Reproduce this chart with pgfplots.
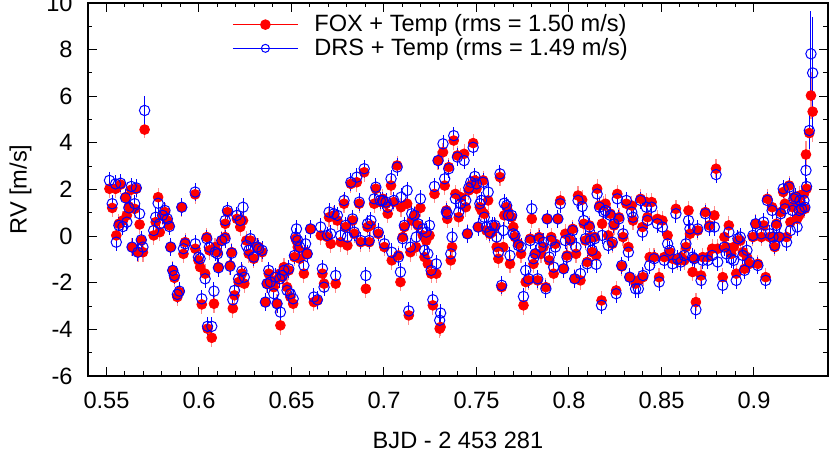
\documentclass[border=0pt]{standalone}
\usepackage{fontspec}
\setmainfont{Liberation Sans}
\usepackage{pgfplots}
\usepackage{pgfplotstable}
\pgfplotsset{compat=1.18}
\newcommand\ff{\fontsize{11.8}{14}\selectfont}

\pgfplotstableread{
x r b
0.5516 2.03 2.39
0.5531 1.21 1.39
0.5549 2.03 2.24
0.5553 0.03 -0.26
0.5567 0.53 0.46
0.5576 2.21 2.27
0.5589 0.67 0.41
0.5603 1.67 1.64
0.5610 0.89 0.60
0.5621 1.27 1.21
0.5634 1.99 2.13
0.5638 -0.47 -0.47
0.5652 1.17 1.39
0.5661 2.03 2.07
0.5670 -0.69 -0.69
0.5679 0.50 0.96
0.5688 -0.19 -0.16
0.5697 -0.69 -0.47
0.5755 0.03 0.24
0.5766 0.60 0.81
0.5779 1.67 1.41
0.5788 0.17 0.53
0.5803 0.89 0.89
0.5816 1.03 1.10
0.5829 0.67 0.74
0.5840 0.46 0.41
0.5847 -0.47 -0.47
0.5858 -1.47 -1.47
0.5867 -1.79 -1.69
0.5883 -2.61 -2.50
0.5894 -2.40 -2.36
0.5907 1.24 1.24
0.5916 -0.76 -0.54
0.5925 -0.26 -0.33
0.5979 1.79 1.89
0.5980 -0.54 -0.33
0.5997 -1.04 -0.90
0.6006 -1.33 -0.97
0.6015 -2.93 -2.69
0.6033 -1.61 -1.83
0.6042 -0.04 -0.11
0.6046 -3.97 -3.87
0.6056 -0.61 -0.47
0.6069 -4.36 -3.87
0.6081 -2.90 -2.36
0.6087 -0.47 -0.69
0.6100 -0.69 -0.76
0.6105 -1.33 -1.36
0.6123 -0.19 -0.19
0.6141 -0.04 -0.11
0.6142 0.53 0.67
0.6154 1.03 1.10
0.6168 -1.26 -1.29
0.6177 -0.69 -0.73
0.6183 -3.10 -2.73
0.6192 -2.54 -2.33
0.6205 0.74 0.89
0.6214 -1.97 -1.83
0.6223 0.39 0.67
0.6232 -1.61 -1.50
0.6238 0.67 1.24
0.6245 -2.04 -1.76
0.6256 -0.19 -0.40
0.6269 -0.76 -0.61
0.6278 -0.19 -0.11
0.6296 -0.97 -0.90
0.6314 -0.47 -0.47
0.6323 -0.47 -0.54
0.6341 -0.69 -0.61
0.6359 -2.83 -2.83
0.6368 -2.04 -2.04
0.6377 -1.61 -1.47
0.6386 -1.97 -1.97
0.6404 -2.19 -2.47
0.6413 -1.90 -1.76
0.6422 -2.90 -2.90
0.6437 -1.61 -1.83
0.6440 -3.83 -3.26
0.6450 -1.76 -1.69
0.6459 -1.33 -1.47
0.6476 -2.19 -2.33
0.6485 -1.47 -1.40
0.6494 -2.61 -2.47
0.6509 -2.90 -2.69
0.6516 -0.90 -0.83
0.6523 -0.11 -0.04
0.6527 -0.19 0.31
0.6534 -0.47 -0.19
0.6545 -0.97 -0.47
0.6567 -1.61 -1.26
0.6576 -0.69 -0.33
0.6585 -0.76 -0.76
0.6603 0.31 0.31
0.6621 -2.83 -2.61
0.6640 -2.76 -2.73
0.6658 0.03 0.39
0.6667 -1.61 -1.40
0.6676 -2.04 -2.19
0.6694 -0.04 0.03
0.6703 0.81 1.03
0.6712 -0.33 0.10
0.6730 0.89 0.96
0.6739 -2.04 -1.69
0.6748 0.67 0.89
0.6766 -0.26 0.03
0.6784 1.39 1.53
0.6793 0.39 0.46
0.6802 -0.40 -0.04
0.6821 2.24 2.31
0.6830 0.67 0.74
0.6839 0.10 0.17
0.6853 2.31 2.53
0.6866 1.39 1.46
0.6875 -0.26 -0.19
0.6893 2.74 2.89
0.6902 -2.26 -1.69
0.6911 0.39 0.53
0.6920 -0.26 -0.19
0.6929 0.46 0.67
0.6947 1.39 1.60
0.6956 2.03 2.10
0.6969 0.10 0.17
0.6980 1.46 1.53
0.6993 1.60 1.53
0.7002 -0.47 -0.33
0.7011 1.39 1.46
0.7020 0.96 1.24
0.7038 2.17 2.46
0.7042 -1.04 -0.69
0.7053 1.46 1.53
0.7071 3.03 2.96
0.7078 -0.83 -0.90
0.7089 -1.97 -1.54
0.7092 1.24 1.67
0.7101 -0.04 -0.11
0.7110 0.39 0.46
0.7125 1.39 1.96
0.7134 -3.40 -3.21
0.7143 -0.69 -0.47
0.7150 0.67 0.96
0.7165 0.89 0.89
0.7174 -0.47 -0.04
0.7183 0.46 0.53
0.7197 1.21 1.60
0.7210 0.03 0.31
0.7219 -0.90 -0.61
0.7228 -0.19 0.17
0.7237 -1.19 -0.76
0.7246 0.03 0.46
0.7255 -1.61 -1.47
0.7264 -2.97 -2.73
0.7273 1.81 2.13
0.7283 -1.61 -1.19
0.7292 3.24 3.24
0.7301 -3.97 -3.61
0.7306 -3.90 -3.30
0.7319 3.60 3.96
0.7328 2.17 2.46
0.7337 1.10 1.03
0.7342 0.74 0.96
0.7350 2.96 2.89
0.7361 -1.04 -0.76
0.7368 -0.47 -0.04
0.7377 4.10 4.31
0.7386 1.81 1.60
0.7397 3.46 3.39
0.7404 0.81 1.03
0.7415 1.67 1.39
0.7433 3.53 3.24
0.7442 1.24 1.53
0.7451 0.10 0.10
0.7458 1.96 2.07
0.7469 2.17 2.31
0.7482 3.99 3.81
0.7491 2.39 2.56
0.7500 2.03 2.24
0.7509 0.39 0.39
0.7518 1.24 1.39
0.7527 1.10 1.53
0.7536 2.39 2.31
0.7542 0.96 0.81
0.7554 0.24 0.39
0.7563 1.53 1.89
0.7572 0.10 0.17
0.7585 0.17 0.46
0.7600 0.39 0.46
0.7609 -0.47 -0.04
0.7618 -0.97 -0.69
0.7627 2.53 2.67
0.7636 -2.19 -2.11
0.7645 -0.47 0.24
0.7650 0.89 1.41
0.7663 1.24 1.31
0.7672 1.03 0.89
0.7681 -1.19 -0.83
0.7690 0.81 0.89
0.7699 0.39 0.10
0.7708 -0.04 0.03
0.7726 -0.33 -0.40
0.7741 -0.76 -0.47
0.7754 -2.97 -2.59
0.7766 -1.97 -1.47
0.7781 -1.90 -1.83
0.7790 -0.11 -0.19
0.7799 0.74 1.17
0.7808 -1.19 -0.97
0.7817 -0.76 -0.76
0.7831 -1.90 -1.83
0.7838 -0.04 -0.11
0.7849 -0.76 -0.47
0.7862 -0.47 -0.26
0.7875 -2.19 -2.26
0.7882 0.74 0.74
0.7893 -1.04 -0.90
0.7904 -0.04 -0.19
0.7917 -1.61 -1.33
0.7926 -0.33 -0.47
0.7940 0.74 0.74
0.7953 1.53 1.39
0.7971 -1.40 -1.40
0.7980 0.10 -0.19
0.7989 -0.83 -0.90
0.8007 -0.19 -0.11
0.8020 0.31 0.24
0.8031 -1.83 -1.83
0.8038 -0.76 -0.47
0.8049 1.74 1.53
0.8062 -1.90 -1.61
0.8071 1.56 1.27
0.8080 0.53 0.67
0.8089 -0.19 -0.11
0.8098 -1.11 -1.19
0.8110 0.46 0.39
0.8116 -0.04 -0.19
0.8125 -0.69 -0.61
0.8139 -0.04 -0.11
0.8147 -0.83 -1.21
0.8152 2.03 1.81
0.8165 1.31 1.24
0.8176 -2.76 -2.97
0.8179 0.53 0.03
0.8188 1.31 1.03
0.8197 1.39 1.10
0.8212 0.03 -0.40
0.8224 0.96 0.89
0.8234 -0.33 -0.26
0.8243 0.46 0.53
0.8255 -2.33 -2.47
0.8261 1.81 1.60
0.8270 0.81 0.74
0.8285 -1.30 -1.26
0.8292 -0.04 0.10
0.8310 1.39 1.53
0.8321 -0.47 -0.69
0.8328 -1.76 -1.76
0.8339 1.31 1.03
0.8346 0.67 0.81
0.8360 -2.04 -2.26
0.8375 -1.90 -2.26
0.8387 1.60 1.53
0.8397 0.39 0.17
0.8400 -1.76 -1.69
0.8418 1.46 1.24
0.8424 0.81 0.67
0.8436 -0.90 -1.26
0.8447 1.46 1.24
0.8460 -0.90 -0.97
0.8478 0.74 0.53
0.8487 -1.76 -1.97
0.8505 0.67 0.39
0.8515 -0.90 -1.04
0.8533 0.03 -0.33
0.8545 -0.69 -0.61
0.8560 -0.97 -1.19
0.8578 1.17 0.96
0.8587 -1.04 -0.97
0.8605 -0.90 -1.11
0.8623 -1.04 -0.83
0.8632 -0.47 -0.33
0.8646 1.10 0.67
0.8654 0.10 0.31
0.8668 -1.54 -0.90
0.8677 -0.97 -0.97
0.8686 -2.83 -3.16
0.8696 0.24 0.31
0.8714 -1.69 -1.90
0.8723 -0.90 -1.04
0.8737 1.03 0.96
0.8750 -0.90 -1.04
0.8759 0.46 0.39
0.8774 -0.54 -0.83
0.8786 0.89 0.39
0.8795 2.89 2.64
0.8804 -0.54 -1.11
0.8831 -1.76 -2.11
0.8840 -0.04 -0.47
0.8850 -0.47 -0.76
0.8864 0.46 0.17
0.8877 -0.76 -0.97
0.8890 -0.47 -1.04
0.8904 -1.61 -1.90
0.8913 -0.19 -0.11
0.8926 -0.19 -0.04
0.8940 -0.69 -0.83
0.8949 -1.40 -1.47
0.8962 -0.90 -0.61
0.8976 -1.19 -1.11
0.8994 -0.04 0.03
0.9009 0.53 0.53
0.9021 -1.19 -1.26
0.9040 -0.04 0.10
0.9052 0.46 0.60
0.9063 -1.76 -1.90
0.9072 1.60 1.53
0.9085 -0.04 0.10
0.9098 1.24 1.10
0.9103 -0.04 -0.04
0.9112 -0.47 -0.40
0.9121 0.53 0.46
0.9136 -0.04 -0.04
0.9145 1.03 0.96
0.9158 1.89 2.03
0.9167 1.39 1.17
0.9176 -0.04 -0.26
0.9190 2.17 2.10
0.9197 0.60 0.24
0.9208 1.24 1.10
0.9216 1.67 1.60
0.9226 1.53 1.67
0.9233 0.74 0.39
0.9244 0.89 1.10
0.9248 1.74 1.53
0.9257 1.31 1.17
0.9270 1.81 1.53
0.9275 1.17 1.24
0.9284 2.03 2.13
}\rvtab

\pgfplotstableread{
x r re b be
0.5706 4.57 0.35 5.39 0.62
0.9281 3.50 0.60 2.82 0.60
0.9299 4.42 0.80 4.53 0.80
0.9308 6.03 1.00 7.82 1.85
0.9317 5.34 1.30 7.00 2.40
}\bigtab

\begin{document}
\begin{tikzpicture}
\begin{axis}[
  at={(0,0)}, anchor=south west,
  scale only axis, width=370pt, height=186.5pt,
  xmin=0.54, xmax=0.94, ymin=-6, ymax=10,
  xtick={0.55,0.6,0.65,0.7,0.75,0.8,0.85,0.9},
  ytick={-6,-4,-2,0,2,4,6,8,10},
  minor x tick num=4, minor y tick num=1,
  tick align=inside, tick pos=both,
  major tick length=4.5pt, minor tick length=2.25pt,
  every tick/.style={black, line width=0.5pt},
  axis line style={line width=0.6pt},
  /pgf/number format/assume math mode=true,
  tick label style={font=\ff},
  label style={font=\ff},
  xticklabel style={inner sep=0pt, anchor=north, yshift=-8pt},
  yticklabel style={inner sep=0pt, anchor=east, xshift=-7.5pt},
  xlabel={BJD - 2 453 281}, ylabel={RV [m/s]},
  xlabel style={at={(axis description cs:0.5,0)}, anchor=north, inner sep=0pt, yshift=-28pt},
  ylabel style={at={(axis description cs:-0.0757,0.5)}, anchor=south, inner sep=0pt},
  legend style={draw=none, fill=none, font=\ff, at={(axis description cs:0.1946,0.970)}, anchor=north west, inner sep=0pt, row sep=1.8pt, column sep=8pt, nodes={inner sep=0pt}},
  legend cell align=left,
  legend image code/.code={\draw[mark repeat=2, mark phase=2, #1] plot coordinates {(0pt,0pt) (16.25pt,0pt) (32.5pt,0pt)};},
]
\addlegendimage{red, line width=0.5pt, mark=*, mark size=2.4pt, mark options={fill=red, draw=red}}
\addlegendentry{FOX + Temp (rms = 1.50 m/s)}
\addlegendimage{blue, line width=0.5pt, mark=o, mark size=2pt}
\addlegendentry{DRS + Temp (rms = 1.49 m/s)}

\addplot[forget plot, only marks, mark=*, mark size=2.45pt, color=red, mark options={fill=red, draw=red},
  error bars/.cd, y dir=both, y fixed=0.40, error mark=none, error bar style={line width=0.6pt, red!45}]
  table[x=x, y=r] {\rvtab};
\addplot[forget plot, only marks, mark=*, mark size=2.45pt, color=red, mark options={fill=red, draw=red},
  error bars/.cd, y dir=both, y explicit, error mark=none, error bar style={line width=0.6pt, red!45}]
  table[x=x, y=r, y error=re] {\bigtab};
\addplot[forget plot, only marks, mark=o, mark size=2.6pt, color=blue, mark options={line width=0.5pt},
  error bars/.cd, y dir=both, y fixed=0.38, error mark=none, error bar style={line width=0.5pt, blue}]
  table[x=x, y=b] {\rvtab};
\addplot[forget plot, only marks, mark=o, mark size=2.6pt, color=blue, mark options={line width=0.5pt},
  error bars/.cd, y dir=both, y explicit, error mark=none, error bar style={line width=0.5pt, blue}]
  table[x=x, y=b, y error=be] {\bigtab};
\end{axis}
\pgfresetboundingbox
\useasboundingbox (-44pt,-38.5pt) rectangle (371pt,188pt);
\end{tikzpicture}
\end{document}
